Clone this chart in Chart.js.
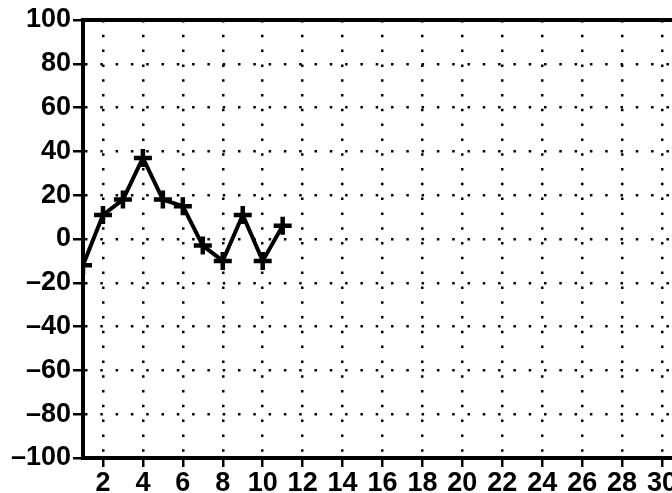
<!DOCTYPE html>
<html lang="en">
<head>
    <meta charset="UTF-8">
    <title>Line chart</title>
    <script src="https://cdn.jsdelivr.net/npm/chart.js"></script>
    <style>
        body { margin: 0; background: #fff; }
        #wrap { width: 672px; height: 493px; overflow: hidden; }
    </style>
</head>
<body>
    <div id="wrap"><canvas id="lineChart" width="720" height="493"></canvas></div>

    <script>
        // values
        const days = [1, 2, 3, 4, 5, 6, 7, 8, 9, 10, 11];
        const values = [-12, 11, 18, 37, 18, 15, -3, -10, 11, -10, 6];
        const xTicks = [2, 4, 6, 8, 10, 12, 14, 16, 18, 20, 22, 24, 26, 28, 30];
        const yTicks = [-100, -80, -60, -40, -20, 0, 20, 40, 60, 80, 100];

        const font = { family: "'Liberation Sans Narrow', 'Liberation Sans', Arial, sans-serif", size: 27, weight: 'bold' };

        // thick line along the top of the plot
        const topBorder = {
            id: 'topBorder',
            afterDraw(chart) {
                const { ctx, chartArea } = chart;
                ctx.save();
                ctx.strokeStyle = '#000';
                ctx.lineWidth = 4;
                ctx.beginPath();
                ctx.moveTo(chartArea.left - 2, chartArea.top);
                ctx.lineTo(chartArea.right, chartArea.top);
                ctx.stroke();
                ctx.restore();
            }
        };

        const ctx = document.getElementById('lineChart').getContext('2d');
        new Chart(ctx, {
            type: 'line',
            data: {
                datasets: [{
                    data: days.map((d, i) => ({ x: d, y: values[i] })),
                    borderColor: '#000',
                    borderWidth: 4,
                    pointStyle: 'cross',
                    pointRadius: 9,
                    pointBorderWidth: 4.5,
                    pointBorderColor: '#000',
                    tension: 0
                }]
            },
            options: {
                responsive: false,
                animation: false,
                layout: { padding: { top: 20, right: 38, left: 0, bottom: 0 } },
                plugins: { legend: { display: false }, tooltip: { enabled: false } },
                scales: {
                    x: {
                        type: 'linear',
                        min: 1,
                        max: 31,
                        afterBuildTicks: scale => { scale.ticks = xTicks.map(v => ({ value: v })); },
                        afterFit: scale => { scale.height = 35; },
                        ticks: { color: '#000', font: font, padding: 0, maxRotation: 0, autoSkip: false },
                        grid: {
                            color: '#000',
                            lineWidth: 2.5,
                            tickLength: 9,
                            tickColor: '#000',
                            tickWidth: 2.5,
                            tickBorderDash: []
                        },
                        border: { display: true, color: '#000', width: 4, dash: [2.5, 12.3] }
                    },
                    y: {
                        min: -100,
                        max: 100,
                        afterBuildTicks: scale => { scale.ticks = yTicks.map(v => ({ value: v })); },
                        afterFit: scale => { scale.width = 83; },
                        ticks: {
                            color: '#000',
                            font: font,
                            padding: 2,
                            callback: v => String(v).replace('-', '\u2013')
                        },
                        grid: {
                            color: ctx => (ctx.tick && Math.abs(ctx.tick.value) === 100) ? 'rgba(0,0,0,0)' : '#000',
                            lineWidth: 2.5,
                            tickLength: 10,
                            tickColor: '#000',
                            tickWidth: 2.5,
                            tickBorderDash: []
                        },
                        border: { display: true, color: '#000', width: 4, dash: [2.5, 12.8] }
                    }
                }
            },
            plugins: [topBorder]
        });
    </script>
</body>
</html>
